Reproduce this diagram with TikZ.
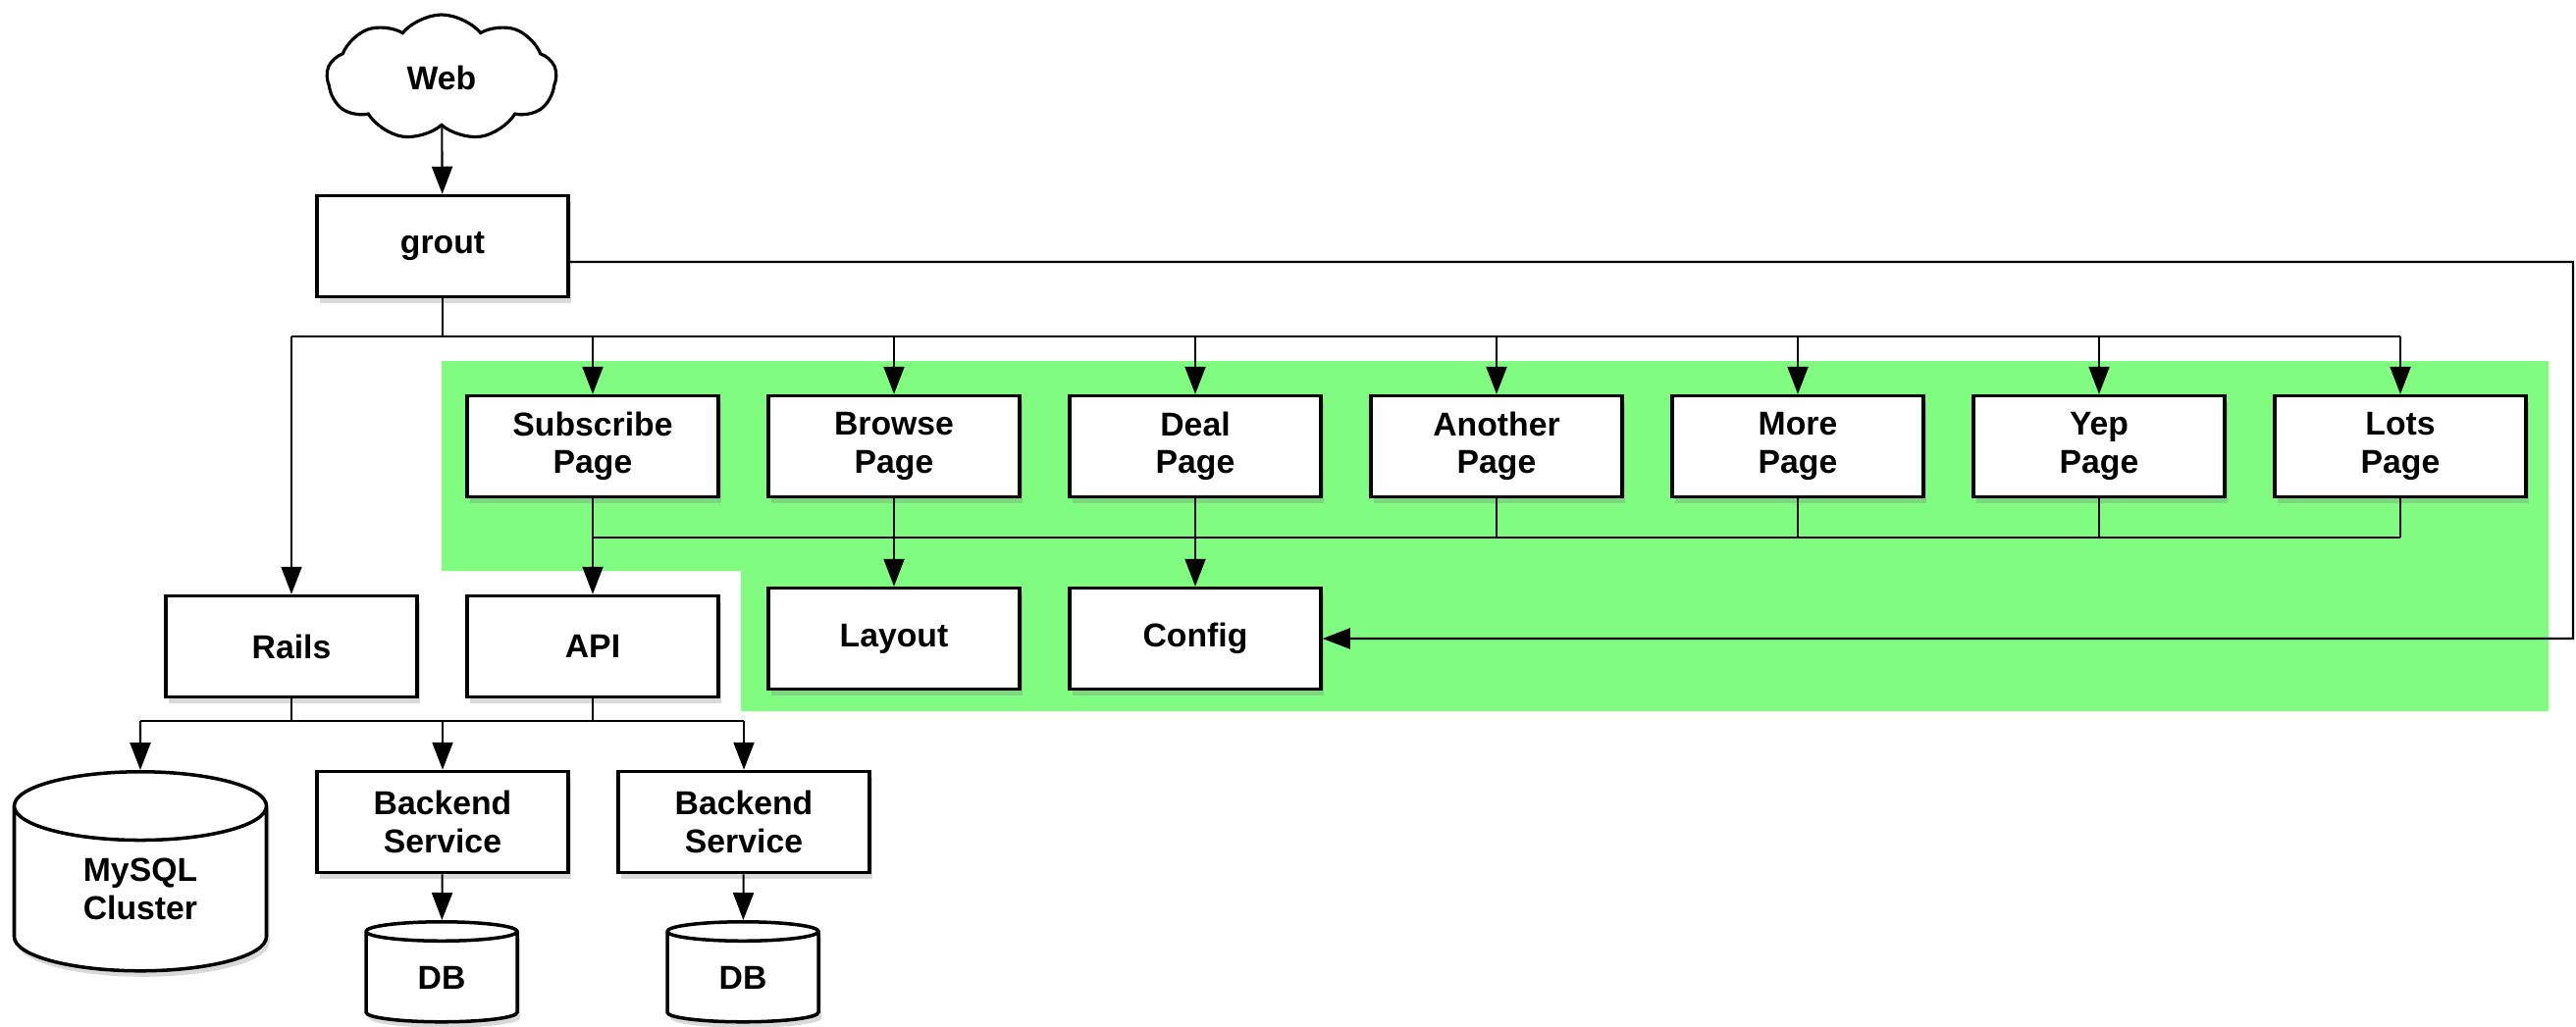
\documentclass[tikz,border=0pt]{standalone}
\usepackage{fontspec}
\setmainfont{Liberation Sans}
\usetikzlibrary{shapes.geometric,shapes.symbols,arrows.meta,shadows}
\definecolor{grn}{RGB}{128,252,128}

\begin{document}
\begin{tikzpicture}[x=0.1mm,y=-0.1mm,font=\fontsize{9.6}{11}\selectfont\bfseries,
		box/.style={draw,line width=1pt,fill=white,minimum width=25.6mm,minimum height=10.3mm,inner sep=0pt,align=center,drop shadow={shadow xshift=0.3mm,shadow yshift=-0.6mm,opacity=0.3}},
		db/.style={cylinder,shape border rotate=90,draw,line width=1pt,fill=white,inner sep=0pt,align=center,anchor=north,drop shadow={shadow xshift=0.3mm,shadow yshift=-0.6mm,opacity=0.3}},
		arr/.style={-{Triangle[length=2.8mm,width=2.1mm]},line width=0.6pt},
		ln/.style={line width=0.6pt}]
	\useasboundingbox (0,0) rectangle (2625,1046);
	\fill[grn] (450,368) -- (2597,368) -- (2597,725) -- (755,725) -- (755,582) -- (450,582) -- cycle;
	\node[cloud,draw,line width=0.9pt,fill=white,cloud puffs=9,cloud puff arc=100,aspect=1.8,minimum width=23.4mm,minimum height=12.8mm,inner sep=0pt] (web) at (450,79) {Web};
	\node[box] (grout) at (451,251) {grout};
	\foreach \n/\t [count=\i] in {sub/Subscribe,brw/Browse,deal/Deal,anth/Another,more/More,yep/Yep,lots/Lots}
		\node[box] (\n) at ({604+307*(\i-1)},455) {\t\\Page};
	\node[box] (layout) at (911,651) {Layout};
	\node[box] (config) at (1218,651) {Config};
	\node[box] (rails) at (297,659) {Rails};
	\node[box] (api) at (604,659) {API};
	\node[box] (back1) at (451,838) {Backend\\Service};
	\node[box] (back2) at (758,838) {Backend\\Service};
	\node[db,aspect=0.6,minimum width=25.7mm,minimum height=20.3mm] (mysql) at (143,785) {MySQL\\Cluster};
	\node[db,aspect=0.4,minimum width=15.4mm,minimum height=10.2mm] (db1) at (450,938) {DB};
	\node[db,aspect=0.4,minimum width=15.4mm,minimum height=10.2mm] (db2) at (757,938) {DB};
	\coordinate (rt) at (2622,267);
	\coordinate (top) at (451,343);
	\coordinate (mid) at (604,548);
	\coordinate (low) at (298,735);
	\draw[arr] (web) -- (grout);
	\draw[arr] ([yshift=-1.6mm]grout.east) -- (rt) |- (config.east);
	\draw[ln] (grout) -- (top);
	\draw[ln] (rails |- top) -- (lots |- top);
	\foreach \n in {rails,sub,brw,deal,anth,more,yep,lots}
		\draw[arr] (\n |- top) -- (\n);
	\draw[ln] (sub |- mid) -- (lots |- mid);
	\foreach \n in {anth,more,yep,lots}
		\draw[ln] (\n) -- (\n |- mid);
	\draw[arr] (sub) -- (api);
	\draw[arr] (brw) -- (layout);
	\draw[arr] (deal) -- (config);
	\draw[ln] (rails) -- (rails |- low);
	\draw[ln] (api) -- (api |- low);
	\draw[ln] (mysql |- low) -- (back2 |- low);
	\foreach \n in {mysql,back1,back2}
		\draw[arr] (\n |- low) -- (\n);
	\draw[arr] (back1) -- (db1);
	\draw[arr] (back2) -- (db2);
\end{tikzpicture}
\end{document}
